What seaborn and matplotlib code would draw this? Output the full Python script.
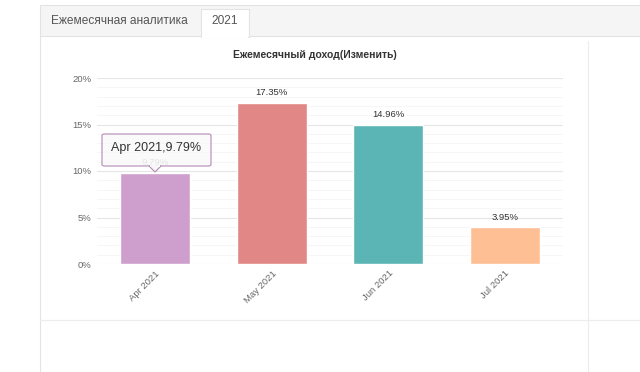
import matplotlib
matplotlib.use("Agg")
import matplotlib.pyplot as plt
import matplotlib.patches as mpatches
import numpy as np
import pandas as pd
import seaborn as sns

sns.set_style("white")
plt.rcParams["font.family"] = ["Liberation Sans", "DejaVu Sans"]

months = ["Apr 2021", "May 2021", "Jun 2021", "Jul 2021"]
values = [9.79, 17.35, 14.96, 3.95]
colors = ["#CE9FCD", "#E18886", "#5BB5B5", "#FFBF95"]
y_ticks = [0, 5, 10, 15, 20]

W, H = 640, 372


def fx(x):
    return x / W


def fy(y):
    return 1 - y / H


fig = plt.figure(figsize=(6.4, 3.72), dpi=100)

# page frame
fig.patches.append(mpatches.Rectangle((fx(40), fy(36)), fx(600), 31 / H, transform=fig.transFigure,
                                      facecolor="#f5f5f5", edgecolor="#e3e3e3", lw=0.8, zorder=0))
fig.patches.append(mpatches.Rectangle((fx(201), fy(37)), fx(48), 28 / H, transform=fig.transFigure,
                                      facecolor="white", edgecolor="#e3e3e3", lw=0.8, zorder=1))
fig.patches.append(mpatches.Rectangle((fx(201.6), fy(37.5)), fx(46.8), 2 / H, transform=fig.transFigure,
                                      facecolor="white", edgecolor="none", zorder=2))
fig.lines.append(plt.Line2D([fx(40), fx(40)], [fy(36), 0], transform=fig.transFigure, color="#e3e3e3", lw=0.8))
fig.lines.append(plt.Line2D([fx(588), fx(588)], [fy(41), 0], transform=fig.transFigure, color="#ececec", lw=0.8))
fig.lines.append(plt.Line2D([fx(40), 1], [fy(320), fy(320)], transform=fig.transFigure, color="#ececec", lw=0.8))
fig.text(fx(51), fy(21), "Ежемесячная аналитика", fontsize=8.6, color="#555555", va="center")
fig.text(fx(225), fy(21), "2021", fontsize=8.6, color="#555555", va="center", ha="center")
fig.text(fx(315), fy(55), "Ежемесячный доход(Изменить)", fontsize=7.5, fontweight="bold",
         color="#333333", ha="center", va="center")

ax = fig.add_axes([fx(97), fy(264), fx(466), (264 - 78) / H])
df = pd.DataFrame({"month": months, "value": values})
sns.barplot(data=df, x="month", y="value", hue="month", palette=colors, width=0.6,
            saturation=1, legend=False, ax=ax, zorder=3)

ax.set_xlim(-0.5, 3.5)
ax.set_ylim(0, 20)
ax.set_yticks(y_ticks)
ax.set_yticklabels([f"{t}%" for t in y_ticks])
ax.set_yticks(np.arange(0, 21, 1), minor=True)
ax.grid(axis="y", which="major", color="#e6e6e6", lw=0.8, zorder=0)
ax.grid(axis="y", which="minor", color="#f5f5f5", lw=0.6, zorder=0)
ax.set_axisbelow(True)
for s in ax.spines.values():
    s.set_visible(False)
ax.tick_params(axis="both", length=0, labelsize=6.8, labelcolor="#666666")
ax.tick_params(axis="y", pad=4)
ax.set_xlabel("")
ax.set_ylabel("")
plt.setp(ax.get_xticklabels(), rotation=45, ha="right", rotation_mode="anchor")

for i, v in enumerate(values):
    c = "#cccccc" if i == 0 else "#333333"
    ax.annotate(f"{v:.2f}%", (i, v), xytext=(0, 4), textcoords="offset points",
                ha="center", va="bottom", fontsize=6.8, color=c)

# tooltip
tip = mpatches.FancyBboxPatch((fx(102), fy(166)), fx(109), 32 / H, boxstyle="round,pad=0,rounding_size=0.004",
                              transform=fig.transFigure, facecolor=(0.97, 0.97, 0.97, 0.6),
                              edgecolor="#b58ab4", lw=0.8, zorder=10)
fig.patches.append(tip)
fig.patches.append(mpatches.Polygon([(fx(149), fy(166)), (fx(161), fy(166)), (fx(155), fy(172))],
                                    closed=True, transform=fig.transFigure, facecolor="#f7f7f7",
                                    edgecolor="#b58ab4", lw=0.8, zorder=11))
fig.patches.append(mpatches.Rectangle((fx(149.8), fy(166.6)), fx(10.4), 1.5 / H, transform=fig.transFigure,
                                      facecolor="#f7f7f7", edgecolor="none", zorder=12))
fig.text(fx(156), fy(148), "Apr 2021,9.79%", fontsize=9, color="#333333", ha="center", va="center", zorder=13)

fig.savefig("out.png", dpi=100)
